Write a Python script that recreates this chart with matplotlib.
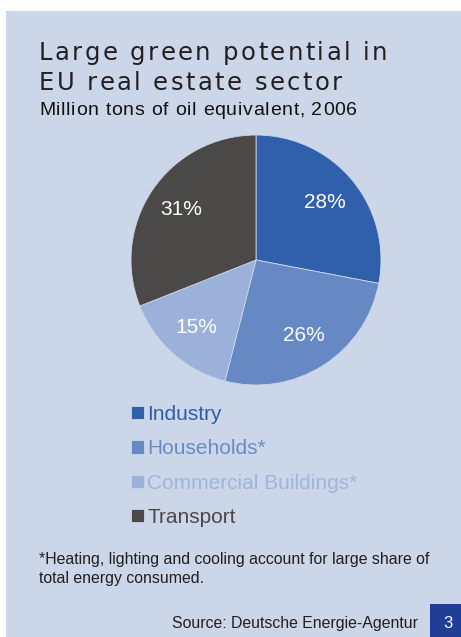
import matplotlib
matplotlib.use("Agg")
import matplotlib.pyplot as plt
from matplotlib.patches import Rectangle

# --- data ---
sectors = ["Industry", "Households*", "Commercial Buildings*", "Transport"]
shares = [28, 26, 15, 31]
colors = ["#3060AC", "#6689C4", "#9BB1D9", "#4B4848"]
label_colors = ["#2E5DA8", "#6A8CC6", "#A0B5DB", "#4B4848"]

W, H = 461, 637
fig = plt.figure(figsize=(W / 100, H / 100), dpi=100)
fig.patch.set_facecolor("white")
renderer = fig.canvas.get_renderer()

# background panel and page number box
fig.patches.append(Rectangle((6 / W, 0), 1 - 6 / W, 1 - 11 / H, transform=fig.transFigure,
                             facecolor="#CCD6E9", edgecolor="none", zorder=-2))
fig.patches.append(Rectangle((430 / W, 0), 1 - 430 / W, 33 / H, transform=fig.transFigure,
                             facecolor="#1F3E96", edgecolor="none", zorder=-1))

font = ["Liberation Sans", "DejaVu Sans"]
wide = ["DejaVu Sans"]


def text_w(s, size, fam):
    t = fig.text(0, 0, s + "l", fontsize=size, family=fam)
    w = t.get_window_extent(renderer).width
    t.remove()
    t = fig.text(0, 0, "l", fontsize=size, family=fam)
    w -= t.get_window_extent(renderer).width
    t.remove()
    return w


def tracked(x, y, s, size, width, color, fam):
    # spread the letters so the line spans `width` pixels
    extra = (width - text_w(s, size, fam)) / (len(s) - 1)
    for i, ch in enumerate(s):
        if ch == " ":
            continue
        px = x + text_w(s[:i], size, fam) + i * extra
        fig.text(px / W, 1 - y / H, ch, fontsize=size, family=fam, color=color,
                 va="baseline")
    return extra


trk = tracked(39, 60, "Large green potential in", 17.5, 348, "#231F20", wide)
line2 = "EU real estate sector"
tracked(39, 90, line2, 17.5, text_w(line2, 17.5, wide) + trk * (len(line2) - 1),
        "#231F20", wide)
tracked(39, 115, "Million tons of oil equivalent, 2006", 14, 318, "#111111", font)

# pie
cx, cy, r = 256, 260, 125
ax = fig.add_axes([(cx - r) / W, 1 - (cy + r) / H, 2 * r / W, 2 * r / H])
ax.patch.set_visible(False)
wedges, texts, autotexts = ax.pie(shares, colors=colors, startangle=90, counterclock=False,
                                  autopct="%d%%", pctdistance=0.72,
                                  wedgeprops=dict(linewidth=0.6, edgecolor="#CCD6E9"),
                                  textprops=dict(color="white", fontsize=15, family=font))
ax.set_xlim(-1.0, 1.0)
ax.set_ylim(-1.0, 1.0)
ax.set_aspect("equal")

# legend
leg = fig.legend(wedges, sectors, loc="upper left", bbox_to_anchor=(112 / W, 1 - 386 / H),
                 frameon=False, handlelength=0.62, handleheight=0.62,
                 handletextpad=0.18, labelspacing=0.74, prop=dict(family=font, size=15))
for t, c in zip(leg.get_texts(), label_colors):
    t.set_color(c)

fig.text(39 / W, 1 - 564 / H, "*Heating, lighting and cooling account for large share of",
         fontsize=11.4, family=font, color="#231F20", va="baseline")
fig.text(39 / W, 1 - 583 / H, "total energy consumed.", fontsize=11.4, family=font,
         color="#231F20", va="baseline")
fig.text(418 / W, 1 - 628 / H, "Source: Deutsche Energie-Agentur", fontsize=11.4,
         family=font, color="#231F20", va="baseline", ha="right")
fig.text(448 / W, 1 - 628 / H, "3", fontsize=12, family=font, color="white",
         va="baseline", ha="center")

fig.savefig("out.png", dpi=100)
